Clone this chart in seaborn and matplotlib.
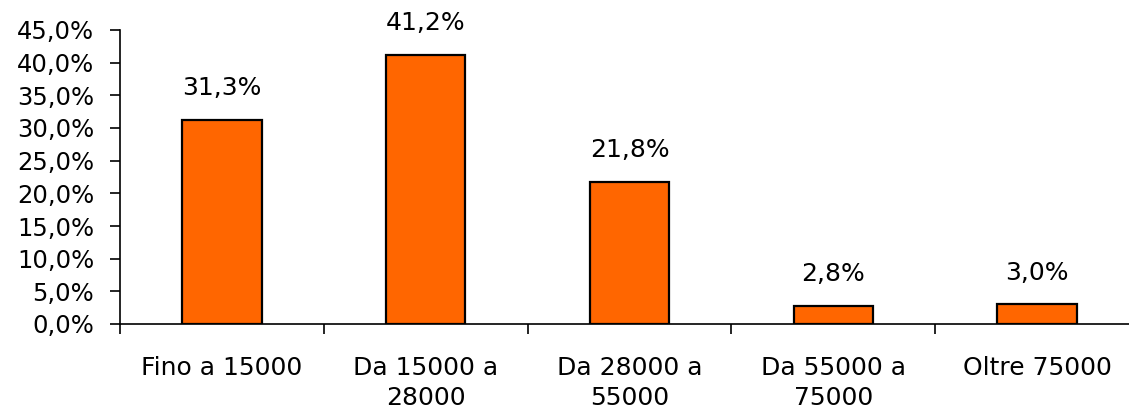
import matplotlib
matplotlib.use("Agg")
import matplotlib.pyplot as plt
import seaborn as sns
import numpy as np
from matplotlib.ticker import FuncFormatter, FixedLocator

categories = ["Fino a 15000", "Da 15000 a\n28000", "Da 28000 a\n55000", "Da 55000 a\n75000", "Oltre 75000"]
values = [31.3, 41.2, 21.8, 2.8, 3.0]
value_labels = ["31,3%", "41,2%", "21,8%", "2,8%", "3,0%"]
yticks = [0, 5, 10, 15, 20, 25, 30, 35, 40, 45]

sns.set_style("white")
plt.rcParams['font.family'] = ['DejaVu Sans']
plt.rcParams['text.color'] = 'black'
plt.rcParams['xtick.color'] = 'black'
plt.rcParams['ytick.color'] = 'black'

fig = plt.figure(figsize=(11.29, 4.17), dpi=100)
ax = fig.add_axes([120/1129, 1-324/417, (1139-120)/1129, (324-30)/417])

sns.barplot(x=categories, y=values, color="#FF6600", saturation=1,
            edgecolor="black", linewidth=1.6, width=0.39, ax=ax)

ax.set_xlim(-0.5, 4.5)
ax.set_ylim(0, 45)
ax.set_yticks(yticks)
ax.yaxis.set_major_formatter(FuncFormatter(lambda v, p: f"{v:.1f}%".replace(".", ",")))
ax.tick_params(axis="y", direction="out", length=7.5, width=1.2, colors="black",
               labelsize=17.5, pad=11, left=True)
ax.tick_params(axis="x", which="major", length=0, labelsize=18, pad=23,
               labelcolor="black")
ax.xaxis.set_minor_locator(FixedLocator([-0.5, 0.5, 1.5, 2.5, 3.5]))
ax.tick_params(axis="x", which="minor", direction="out", length=7, width=1.2,
               color="black", bottom=True)
for lab in ax.get_xticklabels():
    lab.set_linespacing(1.32)

for s in ["top", "right"]:
    ax.spines[s].set_visible(False)
for s in ["left", "bottom"]:
    ax.spines[s].set_color("black")
    ax.spines[s].set_linewidth(1.2)

ax.set_xlabel("")
ax.set_ylabel("")

for i, (v, t) in enumerate(zip(values, value_labels)):
    ax.annotate(t, xy=(i, v), xytext=(0, 14), textcoords="offset points",
                ha="center", va="bottom", fontsize=18, color="black")

fig.savefig("out.png", dpi=100)
